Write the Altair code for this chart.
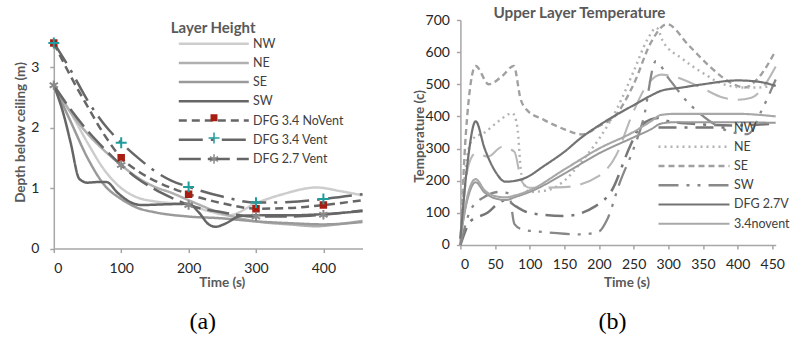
import altair as alt
import pandas as pd

# ---------------- Panel (a): Layer Height ----------------
left_series = ["NW", "NE", "SE", "SW", "DFG 3.4 NoVent", "DFG 3.4 Vent", "DFG 2.7 Vent"]
left_colors = ["#cdcdcd", "#b0b0b0", "#9a9a9a", "#666666", "#666666", "#666666", "#666666"]
left_dashes = [[1, 0], [1, 0], [1, 0], [1, 0], [8, 5], [24, 8, 3, 8], [22, 7]]
left_widths = [2.5, 2.5, 2, 2, 3, 3, 3]

nw_t = [0, 25, 50, 75, 100, 125, 150, 200, 230, 260, 300, 340, 390, 425, 458]
nw_v = [2.7, 2.25, 1.75, 1.3, 1.0, 0.84, 0.78, 0.72, 0.62, 0.55, 0.75, 0.9, 1.01, 0.95, 0.88]
ne_t = [0, 25, 50, 75, 100, 125, 150, 175, 200, 250, 300, 350, 390, 420, 458]
ne_v = [2.7, 2.25, 1.9, 1.62, 1.38, 1.17, 1.02, 0.92, 0.8, 0.58, 0.45, 0.4, 0.37, 0.4, 0.46]
se_t = [0, 25, 50, 75, 100, 125, 150, 200, 250, 300, 350, 400, 458]
se_v = [2.7, 2.1, 1.5, 1.05, 0.82, 0.67, 0.6, 0.53, 0.5, 0.45, 0.42, 0.4, 0.44]
sw_t = [0, 15, 25, 38, 50, 65, 78, 95, 115, 130, 160, 200, 215, 230, 240, 252, 278, 300, 350, 400, 458]
sw_v = [2.7, 2.2, 1.75, 1.15, 1.09, 1.1, 1.1, 0.92, 0.76, 0.72, 0.73, 0.74, 0.6, 0.4, 0.36, 0.4, 0.54, 0.55, 0.55, 0.57, 0.62]
dfg_t = [0, 25, 50, 75, 100, 125, 150, 175, 200, 250, 300, 350, 400, 458]
nov_v = [3.4, 2.85, 2.35, 1.88, 1.5, 1.28, 1.12, 1.0, 0.9, 0.75, 0.66, 0.67, 0.72, 0.8]
vent_v = [3.4, 2.95, 2.45, 2.05, 1.75, 1.5, 1.28, 1.12, 1.02, 0.86, 0.76, 0.77, 0.82, 0.9]
v27_v = [2.7, 2.3, 1.95, 1.65, 1.38, 1.15, 0.98, 0.84, 0.72, 0.6, 0.53, 0.53, 0.56, 0.63]

left_times = [nw_t, ne_t, se_t, sw_t, dfg_t, dfg_t, dfg_t]
left_values = [nw_v, ne_v, se_v, sw_v, nov_v, vent_v, v27_v]

marker_times = [0, 100, 200, 300, 400]
marker_domain = ["m1", "m2", "m3", "m4", "DFG 3.4 NoVent", "DFG 3.4 Vent", "DFG 2.7 Vent"]
marker_stroke = ["transparent"] * 4 + ["#a81d12", "#1f9d9d", "#8a8a8a"]
marker_fill = ["transparent"] * 4 + ["#a81d12", "transparent", "transparent"]
plus_path = "M-1,0L1,0M0,-1L0,1"
star_path = "M0,-1L0,1M-0.87,-0.5L0.87,0.5M-0.87,0.5L0.87,-0.5"
marker_shapes = ["circle"] * 4 + ["square", plus_path, star_path]
marker_sizes = [1, 1, 1, 1, 30, 120, 90]

# ---------------- Panel (b): Upper Layer Temperature ----------------
right_series = ["NW", "NE", "SE", "SW", "DFG 2.7V", "3.4novent", "3.4vent", "DFG 3.4V"]
right_legend_values = ["NW", "NE", "SE", "SW", "DFG 2.7V", "3.4novent"]
right_colors = ["#777777", "#b3b3b3", "#a0a0a0", "#888888", "#737373", "#a8a8a8", "#b8b8b8", "#999999"]
right_dashes = [[18, 8, 3, 8], [2, 4], [6, 4], [20, 8, 3, 8, 3, 8], [1, 0], [1, 0], [22, 10], [1, 0]]
right_widths = [2.5, 2, 2.5, 2.5, 5, 4.5, 4.5, 2.5]

rnw_t = [0, 15, 39, 55, 65, 80, 100, 150, 195, 218, 245, 260, 285, 300, 350, 400, 455]
rnw_v = [0, 75, 100, 130, 140, 120, 100, 90, 121, 168, 308, 370, 395, 385, 375, 372, 378]
rne_t = [0, 8, 18, 35, 55, 75, 82, 88, 100, 125, 150, 175, 200, 225, 250, 270, 283, 292, 320, 350, 380, 410, 430, 455]
rne_v = [0, 250, 330, 350, 385, 410, 370, 220, 165, 170, 200, 260, 330, 420, 540, 640, 676, 635, 580, 535, 500, 490, 490, 500]
rse_t = [0, 8, 22, 41, 60, 77, 87, 95, 120, 150, 175, 200, 223, 250, 275, 298, 330, 360, 390, 410, 430, 455]
rse_v = [0, 350, 557, 500, 525, 557, 453, 422, 390, 360, 344, 370, 401, 500, 630, 687, 620, 555, 505, 490, 520, 605]
rsw_t = [0, 15, 35, 55, 70, 78, 90, 120, 150, 175, 200, 212, 230, 250, 264, 282, 300, 330, 360, 390, 415, 435, 455]
rsw_v = [0, 110, 150, 165, 160, 65, 48, 40, 35, 33, 42, 80, 194, 300, 391, 572, 520, 440, 385, 352, 345, 420, 515]
rdfg_t = [0, 10, 22, 35, 50, 65, 80, 95, 120, 150, 175, 200, 225, 250, 275, 290, 320, 350, 400, 430, 455]
rdfg_v = [20, 250, 385, 300, 230, 197, 200, 210, 245, 290, 335, 372, 405, 435, 465, 480, 490, 500, 512, 508, 495]
rnov_t = [0, 10, 22, 35, 50, 65, 80, 100, 150, 200, 250, 275, 290, 310, 400, 455]
rnov_v = [20, 150, 205, 170, 152, 148, 155, 170, 235, 300, 352, 385, 405, 408, 408, 400]
rvent_t = [0, 12, 22, 40, 60, 78, 88, 100, 150, 200, 225, 247, 267, 290, 313, 347, 380, 400, 420, 440, 455]
rvent_v = [20, 250, 285, 275, 305, 290, 200, 178, 180, 215, 280, 401, 490, 530, 521, 490, 458, 452, 458, 500, 555]
rx_t = [0, 10, 22, 35, 50, 65, 80, 100, 150, 200, 250, 275, 290, 310, 400, 455]
rx_v = [20, 140, 195, 163, 145, 140, 150, 165, 222, 285, 335, 360, 378, 382, 382, 380]

right_times = [rnw_t, rne_t, rse_t, rsw_t, rdfg_t, rnov_t, rvent_t, rx_t]
right_values = [rnw_v, rne_v, rse_v, rsw_v, rdfg_v, rnov_v, rvent_v, rx_v]
right_draw_order = ["3.4vent", "SE", "NE", "NW", "SW", "DFG 3.4V", "3.4novent", "DFG 2.7V"]

captions = ["(a)", "(b)"]
x_ticks = [0, 50, 100, 150, 200, 250, 300, 350, 400, 450]
left_y_ticks = [0, 1, 2, 3]
right_y_ticks = [0, 100, 200, 300, 400, 500, 600, 700]


def build_frame(names, times, values, order=None):
    rows = []
    idx = {n: i for i, n in enumerate(names)}
    for n in (order or names):
        i = idx[n]
        for t, v in zip(times[i], values[i]):
            rows.append({"series": n, "t": t, "v": v})
    return pd.DataFrame(rows)


left_df = build_frame(left_series, left_times, left_values)
marker_df = left_df[left_df["series"].str.startswith("DFG") & left_df["t"].isin(marker_times)].copy()
marker_df["mseries"] = marker_df["series"]
right_df = build_frame(right_series, right_times, right_values, right_draw_order)

FONT = "Lato"
LEFT_SYMBOL = "M-1,0L9,0"
RIGHT_SYMBOL = "M-1,0L9.14,0"

# ----- left chart -----
lx = alt.X("t:Q", scale=alt.Scale(domain=[0, 458], nice=False, zero=False),
           axis=alt.Axis(values=x_ticks, title="Time (s)", titleX=168, titleY=34,
                         titleBaseline="middle", labelPadding=9))
ly = alt.Y("v:Q", scale=alt.Scale(domain=[0, 3.4], nice=False, range=[228.6, 22.9]),
           axis=alt.Axis(values=left_y_ticks, format="d", title="Depth below ceiling (m)", titleX=-33.3,
                         titleY=112, titleBaseline="middle", labelPadding=11))

leg_lines = alt.Legend(orient="none", legendX=117, legendY=1.3, title="Layer Height",
                       symbolType=LEFT_SYMBOL, symbolSize=196, symbolOffset=6.5, labelOffset=58.7,
                       titlePadding=-1.1, rowPadding=4.2, padding=0)
line_a = alt.Chart(left_df).mark_line(interpolate="monotone").encode(
    x=lx, y=ly,
    color=alt.Color("series:N", scale=alt.Scale(domain=left_series, range=left_colors), legend=leg_lines),
    strokeDash=alt.StrokeDash("series:N", scale=alt.Scale(domain=left_series, range=left_dashes), legend=leg_lines),
    strokeWidth=alt.StrokeWidth("series:N", scale=alt.Scale(domain=left_series, range=left_widths), legend=leg_lines),
    detail="series:N",
)
leg_marks = alt.Legend(orient="none", legendX=153.2, legendY=4, title="Layer Height", titleOpacity=0,
                       labelOpacity=0, labelFontSize=14, labelOffset=4, titlePadding=-1.1, rowPadding=4.2,
                       padding=0)
points_a = alt.Chart(marker_df).mark_point(filled=False, strokeWidth=2, opacity=1).encode(
    x="t:Q", y="v:Q",
    stroke=alt.Stroke("mseries:N", scale=alt.Scale(domain=marker_domain, range=marker_stroke), legend=leg_marks),
    fill=alt.Fill("mseries:N", scale=alt.Scale(domain=marker_domain, range=marker_fill), legend=leg_marks),
    shape=alt.Shape("mseries:N", scale=alt.Scale(domain=marker_domain, range=marker_shapes), legend=leg_marks),
    size=alt.Size("mseries:N", scale=alt.Scale(type="ordinal", domain=marker_domain, range=marker_sizes),
                  legend=leg_marks),
)
cap_a = alt.Chart(pd.DataFrame({"label": [captions[0]]})).mark_text(
    font="Liberation Serif", fontSize=24, color="#000000", baseline="middle", align="center"
).encode(x=alt.value(149), y=alt.value(302), text="label:N")

left = alt.layer(line_a, points_a, cap_a).properties(width=308.7, height=228.6)

# ----- right chart -----
rx = alt.X("t:Q", scale=alt.Scale(domain=[0, 455], nice=False, zero=False),
           axis=alt.Axis(values=x_ticks, title="Time (s)", titleX=166, titleY=37.7,
                         titleBaseline="middle", labelPadding=9))
ry = alt.Y("v:Q", scale=alt.Scale(domain=[0, 700], nice=False),
           axis=alt.Axis(values=right_y_ticks, title="Temperature (c)", titleX=-41,
                         titleY=116, titleBaseline="middle", labelPadding=7))
leg_r = alt.Legend(orient="none", legendX=196.6, legendY=99, title=None, values=right_legend_values,
                   symbolType=RIGHT_SYMBOL, symbolSize=196, labelOffset=60, rowPadding=4.25, padding=0)
line_b = alt.Chart(right_df).mark_line(interpolate="monotone").encode(
    x=rx, y=ry,
    color=alt.Color("series:N", scale=alt.Scale(domain=right_series, range=right_colors), legend=leg_r),
    strokeDash=alt.StrokeDash("series:N", scale=alt.Scale(domain=right_series, range=right_dashes), legend=leg_r),
    strokeWidth=alt.StrokeWidth("series:N", scale=alt.Scale(domain=right_series, range=right_widths), legend=leg_r),
    detail="series:N",
)
cap_b = alt.Chart(pd.DataFrame({"label": [captions[1]]})).mark_text(
    font="Liberation Serif", fontSize=24, color="#000000", baseline="middle", align="center"
).encode(x=alt.value(152), y=alt.value(302), text="label:N")

right = alt.layer(line_b, cap_b).properties(
    width=315.3, height=225,
    title=alt.TitleParams("Upper Layer Temperature", anchor="start", frame="group", dx=33, offset=-8.7,
                          font=FONT, fontSize=15.3, fontWeight="bold", color="#595959"),
)

chart = alt.hconcat(left, right, spacing=97.6, bounds="flush").resolve_scale(
    x="independent", y="independent", color="independent", strokeDash="independent",
    strokeWidth="independent", stroke="independent", fill="independent", shape="independent",
    size="independent",
).resolve_legend(
    color="independent", strokeDash="independent", strokeWidth="independent",
    stroke="independent", fill="independent", shape="independent", size="independent",
).properties(
    padding={"left": 12.8, "top": 6, "right": 2, "bottom": 0}
).configure_view(stroke=None).configure_axis(
    grid=False, domainColor="#a6a6a6", domainWidth=1.5, tickColor="#a6a6a6", tickWidth=1.5,
    tickSize=4, labelFont=FONT, labelFontSize=14, labelColor="#262626",
    titleFont=FONT, titleFontSize=13.5, titleFontWeight="bold", titleColor="#595959",
).configure_legend(
    labelFont=FONT, labelFontSize=12.5, labelColor="#404040", titleFont=FONT, titleFontSize=15,
    titleFontWeight="bold", titleColor="#595959", labelLimit=200,
)

chart.save("out.html", embed_options={"renderer": "svg", "actions": False})
